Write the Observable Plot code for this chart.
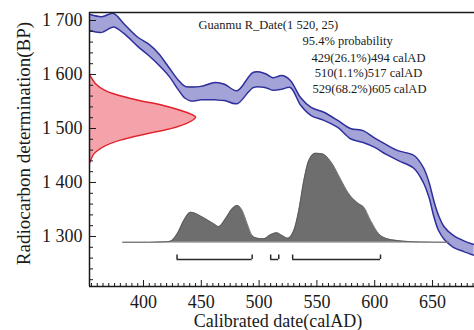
<!DOCTYPE html>
<html><head><meta charset="utf-8">
<script src="https://cdn.jsdelivr.net/npm/d3@7"></script>
<script src="https://cdn.jsdelivr.net/npm/@observablehq/plot@0.6"></script>
<style>
body{margin:0;background:#fff;}
#chart svg{display:block;}
</style>
</head><body><div id="chart"></div>
<script>
// Calibration curve band (1 sigma)
const bandYears = [354,364,374,383,395,404,413,422,430,436,441,450,462,470,481,495,505,512,520,527,536,545,556,568,579,590,600,610,620,634,642,647,651,655,660,668,677,686];
const bandUpper = [1711,1707,1713,1694,1669,1657,1639,1613,1590,1578,1577,1578,1585,1582,1570,1604,1602,1594,1598,1589,1557,1539,1530,1515,1500,1496,1482,1470,1459,1450,1428,1400,1367,1340,1318,1302,1292,1285];
const bandLower = [1681,1678,1688,1676,1652,1636,1618,1597,1572,1556,1551,1553,1553,1552,1546,1576,1576,1571,1573,1576,1543,1524,1515,1502,1481,1474,1465,1452,1441,1426,1400,1372,1338,1312,1295,1280,1272,1265];

// Radiocarbon determination distribution (relative density)
const redBP = [1600,1598,1583,1570,1561,1552,1543,1533,1521,1509,1499,1490,1478,1465,1453,1441,1436];
const redDensity = [0,0.005,0.057,0.15,0.28,0.47,0.69,0.87,1.0,0.91,0.75,0.53,0.28,0.12,0.04,0.01,0];

// Calibrated date distribution (relative probability)
const postYears = [382,405,418,423.4,429.2,434.9,440.7,452.2,460.8,465.1,470.9,476.7,481.1,485.4,489.7,494,498.4,504.1,509.9,515.1,520,524.8,530,534.3,538.7,543,548.8,554.6,563.3,570.3,577.6,586.2,590.6,596.4,603.5,610.8,625.2,639.6,664];
const postProb = [0,0,0.004,0.012,0.094,0.244,0.337,0.274,0.207,0.176,0.263,0.375,0.412,0.356,0.207,0.075,0.045,0.038,0.083,0.106,0.075,0.045,0.131,0.356,0.693,0.918,1.0,0.993,0.881,0.712,0.544,0.431,0.393,0.244,0.094,0.038,0.011,0.003,0];

// 95.4% ranges
const rangeStart = [429,510,529];
const rangeEnd = [494,517,605];

const xTicks = [400,450,500,550,600,650];
const yTicks = [1300,1400,1500,1600,1700];
const annotation = ["Guanmu R_Date(1 520, 25)","95.4% probability","429(26.1%)494 calAD","510(1.1%)517 calAD","529(68.2%)605 calAD"];
const xLabel = "Calibrated date(calAD)";
const yLabel = "Radiocarbon determination(BP)";

const xDomain = [353.3, 686.3];
const yDomain = [1207.4, 1714.8];
const redScale = 91.7;     // calAD units at peak density
const postBase = 1289.4;   // BP baseline of calibrated distribution
const postScale = 164.8;   // BP units at peak probability
const bracketY = 1257.4, bracketTop = 1265.7;

const band = bandYears.map((x,i)=>({x, hi: bandUpper[i], lo: bandLower[i]}));
const red = redBP.map((bp,i)=>({bp, x2: xDomain[0] + redDensity[i]*redScale}));
const post = postYears.map((x,i)=>({x, y2: postBase + postProb[i]*postScale}));
const ranges = rangeStart.map((s,i)=>({s, e: rangeEnd[i]}));
const ends = ranges.flatMap(r=>[r.s, r.e]);

const fmt = d3.formatLocale({thousands:" ", grouping:[3], decimal:".", currency:["",""]}).format(",");
const font = "'Liberation Serif','Times New Roman',serif";
const ink = "#1a1a1a";
const xMinor = d3.range(355, 686, 5).filter(v=>v%50!==0);
const yMinor = d3.range(1220, 1715, 20).filter(v=>v%100!==0);

const W = 474, H = 330, mL = 89, mR = 0, mT = 12, mB = 44;
const fw = W - mL - mR, fh = H - mT - mB;

const chart = Plot.plot({
  width: W, height: H,
  marginLeft: mL, marginRight: mR, marginTop: mT, marginBottom: mB,
  x: {domain: xDomain},
  y: {domain: yDomain},
  style: {fontFamily: font, background: "#fff", color: ink},
  marks: [
    // calibration band
    Plot.areaY(band, {x:"x", y1:"lo", y2:"hi", fill:"#a3a3d8", fillOpacity:1, curve:"catmull-rom", clip:true}),
    Plot.lineY(band, {x:"x", y:"hi", stroke:"#2e2e9c", strokeWidth:1.5, curve:"catmull-rom", clip:true}),
    Plot.lineY(band, {x:"x", y:"lo", stroke:"#2e2e9c", strokeWidth:1.5, curve:"catmull-rom", clip:true}),
    // radiocarbon determination
    Plot.areaX(red, {y:"bp", x1: xDomain[0], x2:"x2", fill:"#f5a3ab", curve:"catmull-rom", clip:true}),
    Plot.lineX(red, {y:"bp", x:"x2", stroke:"#e1222c", strokeWidth:1.5, curve:"catmull-rom", clip:true}),
    // calibrated distribution
    Plot.lineY(post, {x:"x", y: postBase, stroke:"#9a9a9a", strokeWidth:1}),
    Plot.areaY(post, {x:"x", y1: postBase, y2:"y2", fill:"#6e6e6e", curve:"monotone-x"}),
    Plot.lineY(post, {x:"x", y:"y2", stroke:"#555", strokeWidth:0.8, curve:"monotone-x"}),
    // range brackets
    Plot.ruleY(ranges, {y: bracketY, x1:"s", x2:"e", stroke:"#2a2a2a", strokeWidth:1.5}),
    Plot.ruleX(ends, {x: d=>d, y1: bracketY, y2: bracketTop, stroke:"#2a2a2a", strokeWidth:1.5}),
    // inward ticks
    Plot.tickX(xTicks, {x: d=>d, insetTop: fh - 6, stroke: ink, strokeWidth:1}),
    Plot.tickX(xMinor, {x: d=>d, insetTop: fh - 3, stroke: ink, strokeWidth:1}),
    Plot.tickY(yTicks, {y: d=>d, insetRight: fw - 7, stroke: ink, strokeWidth:1}),
    Plot.tickY(yMinor, {y: d=>d, insetRight: fw - 4, stroke: ink, strokeWidth:1}),
    // frame
    Plot.ruleX([xDomain[0]], {stroke: ink, strokeWidth:1.5}),
    Plot.ruleY([yDomain[0]], {stroke: ink, strokeWidth:1.5}),
    Plot.ruleY([yDomain[1]], {stroke: ink, strokeWidth:1.5}),
    // axes labels
    Plot.axisX(xTicks, {tickSize:0, tickPadding:9, fontSize:18, tickFormat: d=>String(d), label:null, fill: ink}),
    Plot.axisY(yTicks, {tickSize:0, tickPadding:7, fontSize:18, tickFormat: fmt, label:null, fill: ink}),
    // axis titles
    Plot.text([xLabel], {frameAnchor:"bottom", textAnchor:"middle", lineAnchor:"middle", dx:-4, dy:34.5, fontSize:18, fill: ink}),
    Plot.text([yLabel], {frameAnchor:"left", textAnchor:"middle", lineAnchor:"middle", rotate:-90, dx:-66, dy:-6, fontSize:19, fill: ink}),
    // annotations
    Plot.text([annotation[0]], {frameAnchor:"top-left", dx:109, dy:12, textAnchor:"start", lineAnchor:"middle", fontSize:12.5, fill: ink}),
    Plot.text([annotation[1]], {frameAnchor:"top-left", dx:213, dy:28, textAnchor:"start", lineAnchor:"middle", fontSize:12.5, fill: ink}),
    Plot.text([annotation[2]], {frameAnchor:"top-left", dx:279, dy:45, textAnchor:"middle", lineAnchor:"middle", fontSize:12.5, fill: ink}),
    Plot.text([annotation[3]], {frameAnchor:"top-left", dx:279, dy:60, textAnchor:"middle", lineAnchor:"middle", fontSize:12.5, fill: ink}),
    Plot.text([annotation[4]], {frameAnchor:"top-left", dx:280, dy:76, textAnchor:"middle", lineAnchor:"middle", fontSize:12.5, fill: ink})
  ]
});
document.getElementById("chart").append(chart);
</script>
</body></html>
